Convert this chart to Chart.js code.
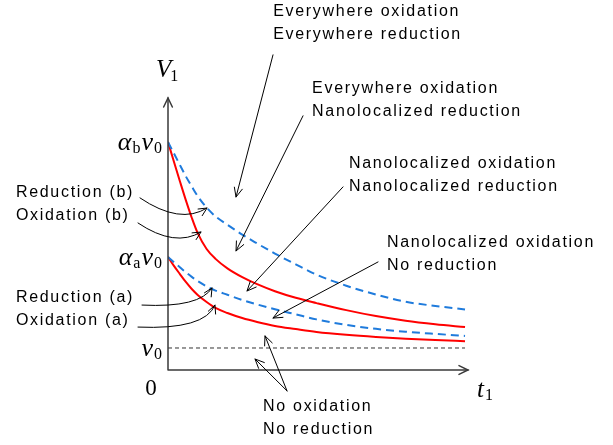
<!DOCTYPE html>
<html><head><meta charset="utf-8">
<script src="https://cdn.jsdelivr.net/npm/chart.js@4/dist/chart.umd.min.js"></script>
<style>html,body{margin:0;padding:0;background:#fff;}canvas{display:block;}</style>
</head><body>
<canvas id="c" width="613" height="445"></canvas>
<script>
// ---- data (arbitrary units: t in 0..100, V in units of v0) ----
const tSamples   = [0,2,4,6,8,10,13,16,20,25,30,36,43,50,60,70,80,90,100];
const reductionB = [10.36,9.84,9.32,8.8,8.34,7.9,7.38,6.98,6.6,6.15,5.75,5.29,4.8,4.33,3.83,3.43,3.1,2.91,2.75];
const oxidationB = [10.36,9.46,8.58,7.72,6.92,6.22,5.5,5.05,4.62,4.22,3.9,3.58,3.28,3.04,2.72,2.45,2.24,2.08,1.95];
const reductionA = [5.14,4.9,4.67,4.44,4.23,4.04,3.8,3.61,3.42,3.18,2.98,2.76,2.53,2.3,2.05,1.87,1.74,1.64,1.55];
const oxidationA = [5.14,4.73,4.36,4.0,3.68,3.41,3.09,2.82,2.59,2.36,2.18,2.0,1.86,1.73,1.6,1.5,1.42,1.36,1.31];
const v0Times    = [0,100];
const v0Level    = [1,1];
const tickValues = [10.36, 5.14, 1];
const tickSubs   = ['b','a',null];
const xMax = 101, yMax = 12.36;

// annotation texts (anchor in data units: left edge, first-line centre)
const notes = [
  {lines:['Everywhere oxidation','Everywhere reduction'], t:35.4, v:16.27},
  {lines:['Everywhere oxidation','Nanolocalized reduction'], t:48.5, v:12.77},
  {lines:['Nanolocalized oxidation','Nanolocalized reduction'], t:60.9, v:9.36},
  {lines:['Nanolocalized oxidation','No reduction'], t:73.7, v:5.77},
  {lines:['Reduction (b)','Oxidation (b)'], t:-51.2, v:8.05},
  {lines:['Reduction (a)','Oxidation (a)'], t:-51.2, v:3.27},
  {lines:['No oxidation','No reduction'], t:32.0, v:-1.68}
];
const straightArrows = [
  {from:[35.35,14.32], to:[22.9,7.86]},
  {from:[45.45,11.55], to:[22.9,5.41]},
  {from:[58.92,8.32],  to:[26.6,3.59]},
  {from:[70.71,4.91],  to:[35.35,2.36]},
  {from:[40.07,-0.95], to:[32.66,1.55]},
  {from:[40.07,-0.95], to:[29.29,0.5]}
];
const curvedArrows = [
  {from:[-9.43,7.82], ctrl:[4.04,6.59],  to:[13.13,7.36]},
  {from:[-10.1,6.68], ctrl:[2.36,5.55],  to:[11.11,6.27]},
  {from:[-8.75,2.95], ctrl:[10.77,2.82], to:[14.81,3.73]},
  {from:[-10.1,1.95], ctrl:[12.46,1.82], to:[15.82,2.95]}
];

const pts = (xs, ys) => xs.map((x,i)=>({x, y:ys[i]}));
const RED = '#FF0000', BLUE = '#1F7BDC';

const overlay = {
  id:'overlay',
  afterDraw(chart){
    const ctx = chart.ctx, xs = chart.scales.x, ys = chart.scales.y;
    const X = t => xs.getPixelForValue(t), Y = v => ys.getPixelForValue(v);
    const head = (x,y,ang,len=9,spr=0.42) => {
      ctx.beginPath();
      ctx.moveTo(x - len*Math.cos(ang-spr), y - len*Math.sin(ang-spr));
      ctx.lineTo(x,y);
      ctx.lineTo(x - len*Math.cos(ang+spr), y - len*Math.sin(ang+spr));
      ctx.stroke();
    };
    ctx.save();
    ctx.lineCap = 'round';
    // axes
    const ox = X(0), oy = Y(0), top = Y(yMax), right = X(xMax);
    ctx.strokeStyle = '#3a3a3a'; ctx.lineWidth = 1.5;
    ctx.beginPath(); ctx.moveTo(ox, oy); ctx.lineTo(ox, top); ctx.moveTo(ox, oy); ctx.lineTo(right, oy); ctx.stroke();
    head(ox, top, -Math.PI/2, 10, 0.45);
    head(right, oy, 0, 10, 0.45);

    // annotation arrows
    ctx.strokeStyle = '#000'; ctx.lineWidth = 1;
    straightArrows.forEach(a => {
      const x1 = X(a.from[0]), y1 = Y(a.from[1]), x2 = X(a.to[0]), y2 = Y(a.to[1]);
      ctx.beginPath(); ctx.moveTo(x1,y1); ctx.lineTo(x2,y2); ctx.stroke();
      head(x2, y2, Math.atan2(y2-y1, x2-x1), 10, 0.42);
    });
    curvedArrows.forEach(a => {
      const x1 = X(a.from[0]), y1 = Y(a.from[1]), cx = X(a.ctrl[0]), cy = Y(a.ctrl[1]), x2 = X(a.to[0]), y2 = Y(a.to[1]);
      ctx.beginPath(); ctx.moveTo(x1,y1); ctx.quadraticCurveTo(cx,cy,x2,y2); ctx.stroke();
      head(x2, y2, Math.atan2(y2-cy, x2-cx), 9, 0.45);
    });

    // annotation text
    ctx.fillStyle = '#000';
    ctx.font = '16px "Liberation Sans", Arial, sans-serif';
    try { ctx.letterSpacing = '1.7px'; } catch(e) {}
    ctx.textAlign = 'left'; ctx.textBaseline = 'middle';
    notes.forEach(n => {
      n.lines.forEach((s,i) => ctx.fillText(s, X(n.t), Y(n.v) + i*23));
    });
    try { ctx.letterSpacing = '0px'; } catch(e) {}

    // math labels
    ctx.textBaseline = 'alphabetic';
    const big = 'italic 26px "Liberation Serif", "Times New Roman", serif';
    const sub = '16px "Liberation Serif", "Times New Roman", serif';
    const drawParts = (parts, xRight, base) => {
      let w = 0;
      parts.forEach(p => { ctx.font = p.f; w += ctx.measureText(p.s).width + (p.gap||0); });
      let x = xRight - w;
      ctx.textAlign = 'left';
      parts.forEach(p => { ctx.font = p.f; ctx.fillText(p.s, x, base + (p.dy||0)); x += ctx.measureText(p.s).width + (p.gap||0); });
    };
    tickValues.forEach((v,i) => {
      const parts = [];
      if (tickSubs[i]) { parts.push({s:'α', f:big, gap:1}); parts.push({s:tickSubs[i], f:sub, dy:3, gap:1}); }
      parts.push({s:'v', f:big, gap:1}); parts.push({s:'0', f:sub, dy:3});
      drawParts(parts, ox - 6, Y(v) + 8);
    });
    // origin, V1, t1
    ctx.font = '23px "Liberation Serif", "Times New Roman", serif';
    ctx.textAlign = 'center';
    ctx.fillText('0', ox - 17, oy + 25);
    ctx.textAlign = 'left';
    const bigV = 'italic 25px "Liberation Serif", "Times New Roman", serif';
    ctx.font = bigV; ctx.fillText('V', ox - 12, top - 21);
    let w = ctx.measureText('V').width;
    ctx.font = sub; ctx.fillText('1', ox - 13 + w, top - 17);
    ctx.font = bigV; ctx.fillText('t', right + 9, oy + 27);
    w = ctx.measureText('t').width;
    ctx.font = sub; ctx.fillText('1', right + 10 + w, oy + 30);
    ctx.restore();
  }
};

new Chart(document.getElementById('c'), {
  type: 'line',
  data: {
    datasets: [
      {label:'v0', data: pts(v0Times, v0Level), borderColor:'#333', borderWidth:1, borderDash:[4,3], pointRadius:0, tension:0},
      {label:'Reduction (b)', data: pts(tSamples, reductionB), borderColor:BLUE, borderWidth:2, borderDash:[8,5], pointRadius:0, cubicInterpolationMode:'monotone'},
      {label:'Oxidation (b)', data: pts(tSamples, oxidationB), borderColor:RED, borderWidth:2, pointRadius:0, cubicInterpolationMode:'monotone'},
      {label:'Reduction (a)', data: pts(tSamples, reductionA), borderColor:BLUE, borderWidth:2, borderDash:[8,5], pointRadius:0, cubicInterpolationMode:'monotone'},
      {label:'Oxidation (a)', data: pts(tSamples, oxidationA), borderColor:RED, borderWidth:2, pointRadius:0, cubicInterpolationMode:'monotone'}
    ]
  },
  options: {
    responsive:false, animation:false, devicePixelRatio:1,
    layout:{padding:{left:168, right:613-468, top:98, bottom:75}},
    scales:{
      x:{type:'linear', min:0, max:xMax, display:false},
      y:{type:'linear', min:0, max:yMax, display:false}
    },
    plugins:{legend:{display:false}, tooltip:{enabled:false}},
    events:[]
  },
  plugins:[overlay]
});
</script>
</body></html>
